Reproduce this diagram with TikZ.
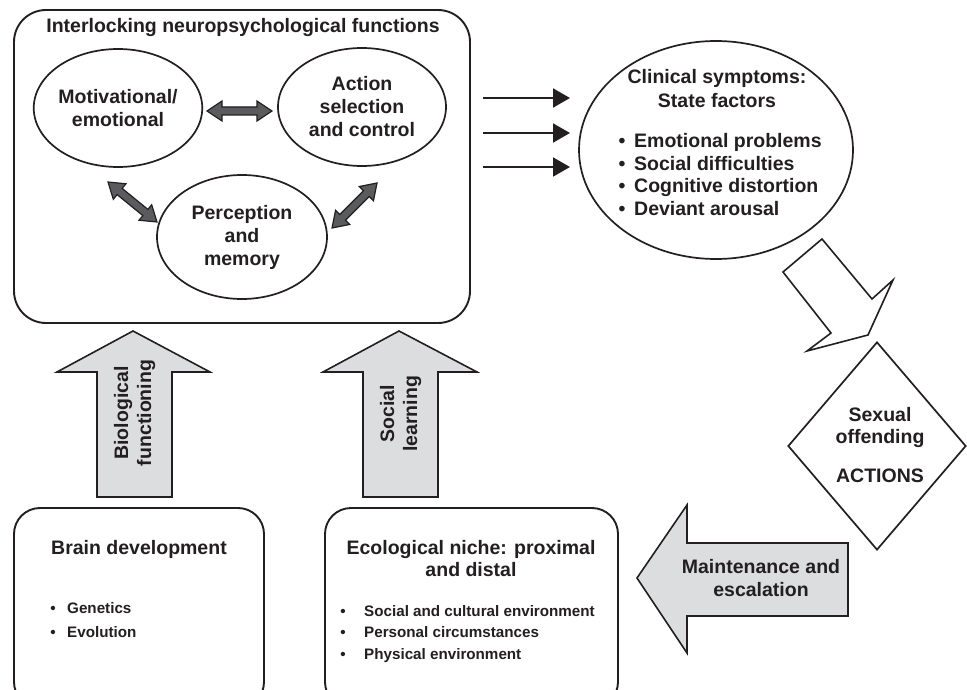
\documentclass[tikz,border=0pt]{standalone}
\usepackage{fontspec}
\setmainfont{Liberation Sans}
\usetikzlibrary{shapes.geometric,arrows.meta}
\definecolor{ink}{HTML}{231F20}
\definecolor{arrowgray}{HTML}{DCDDDF}
\definecolor{darkarrow}{HTML}{5A5B5D}

\begin{document}
\begin{tikzpicture}[x=1pt,y=-1pt,line join=miter,
  big/.style={font=\fontsize{19.5}{23}\selectfont\bfseries,text=ink},
  small/.style={font=\fontsize{15.2}{18}\selectfont\bfseries,text=ink},
  oval/.style={ellipse,draw=ink,line width=1.7pt,inner sep=0pt,align=center,big},
  panel/.style={rectangle,draw=ink,line width=1.9pt,inner sep=0pt},
  blockarrow/.style={draw=ink,line width=1.6pt,fill=arrowgray},
  hollowarrow/.style={draw=ink,line width=1.6pt,fill=white},
  dkarrow/.style={draw=ink,line width=1.2pt,fill=darkarrow},
  feed/.style={draw=ink,line width=2pt,-{Triangle[length=17pt,width=19pt]}},
  lbl/.style={big,anchor=base,inner sep=0pt},
  sml/.style={small,anchor=base west,inner sep=0pt},
  pics/dblarr/.style={code={
    \draw[dkarrow] (-#1,0) -- ({-#1+15},-10) -- ({-#1+15},-4) -- ({#1-15},-4)
      -- ({#1-15},-10) -- (#1,0) -- ({#1-15},10) -- ({#1-15},4)
      -- ({-#1+15},4) -- ({-#1+15},10) -- cycle;}}
]
\clip (0,0) rectangle (967,690);
\fill[white] (0,0) rectangle (967,690);

% ---- interlocking functions panel ----
\node[panel,rounded corners=32pt,minimum width=456,minimum height=313] (core) at (242,166.5) {};
\node[lbl] (coretitle) at (243,33) {Interlocking neuropsychological functions};

\node[oval,minimum width=166,minimum height=118] (motiv) at (118,108) {Motivational/\\emotional};
\node[oval,minimum width=168,minimum height=118] (action) at (362,107) {Action\\selection\\and control};
\node[oval,minimum width=170,minimum height=124] (percep) at (242,237) {Perception\\and\\memory};

\pic (me) at (239.5,111) {dblarr=32.5};
\pic[rotate=-39.2] (mp) at (132.5,202) {dblarr=31.6};
\pic[rotate=45] (pa) at (354.5,205.5) {dblarr=31.8};

% ---- clinical symptoms ----
\node[oval,minimum width=274,minimum height=218] (clin) at (716,150) {};
\node[lbl] (clin1) at (717,84) {Clinical symptoms:};
\node[lbl] (clin2) at (717,108) {State factors};
\foreach \t/\y [count=\i] in {Emotional problems/148,Social difficulties/171,Cognitive distortion/193,Deviant arousal/215}{
  \node[big,anchor=base,inner sep=0pt] (cb\i) at (622,\y) {\textbullet};
  \node[big,anchor=base west,inner sep=0pt] (ct\i) at (634,\y) {\t};
}

\coordinate (f1s) at (483,98);  \coordinate (f1e) at (570,98);
\coordinate (f2s) at (483,133); \coordinate (f2e) at (570,133);
\coordinate (f3s) at (483,167); \coordinate (f3e) at (570,167);
\draw[feed] (f1s) -- (f1e);
\draw[feed] (f2s) -- (f2e);
\draw[feed] (f3s) -- (f3e);

% ---- hollow arrow towards the actions ----
\draw[hollowarrow] (822,239) -- (872,299) -- (893,280) -- (868,335) -- (807,351)
  -- (831,333) -- (783,272) -- cycle;

% ---- sexual offending actions ----
\node[diamond,draw=ink,line width=1.7pt,inner sep=0pt,minimum width=178,minimum height=208] (acts) at (877,446) {};
\node[lbl] (acts1) at (880,421) {Sexual};
\node[lbl] (acts2) at (880,443) {offending};
\node[lbl] (acts3) at (880,482) {ACTIONS};

% ---- maintenance arrow ----
\draw[blockarrow] (637,578) -- (687,505) -- (687,543) -- (848,543) -- (848,616)
  -- (687,616) -- (687,653) -- cycle;
\node[lbl] (maint1) at (761,573) {Maintenance and};
\node[lbl] (maint2) at (761,596) {escalation};

% ---- upward arrows ----
\draw[blockarrow] (133,331) -- (210,372) -- (172,372) -- (172,497) -- (97,497)
  -- (97,372) -- (57,372) -- cycle;
\node[big,align=center,rotate=90,inner sep=0pt] (bio) at (134.5,413) {Biological\\functioning};
\draw[blockarrow] (399,331) -- (477,372) -- (438,372) -- (438,497) -- (363,497)
  -- (363,372) -- (323,372) -- cycle;
\node[big,align=center,rotate=90,inner sep=0pt] (soc) at (400.5,414) {Social\\learning};

% ---- bottom panels ----
\node[panel,rounded corners=26pt,minimum width=250,minimum height=200] (brain) at (139,608) {};
\node[lbl] (brain1) at (139,554) {Brain development};
\node[small,anchor=base,inner sep=0pt] (gb1) at (53,613) {\textbullet};
\node[sml] (g1) at (67,613) {Genetics};
\node[small,anchor=base,inner sep=0pt] (gb2) at (53,637) {\textbullet};
\node[sml] (g2) at (67,637) {Evolution};

\node[panel,rounded corners=26pt,minimum width=293,minimum height=200] (niche) at (471.5,608) {};
\node[lbl] (niche1) at (471,554) {Ecological niche: proximal};
\node[lbl] (niche2) at (471,576) {and distal};
\foreach \t/\y [count=\i] in {Social and cultural environment/616,Personal circumstances/637,Physical environment/659}{
  \node[small,anchor=base,inner sep=0pt] (nb\i) at (343,\y) {\textbullet};
  \node[sml] (nt\i) at (364,\y) {\t};
}
\end{tikzpicture}
\end{document}
